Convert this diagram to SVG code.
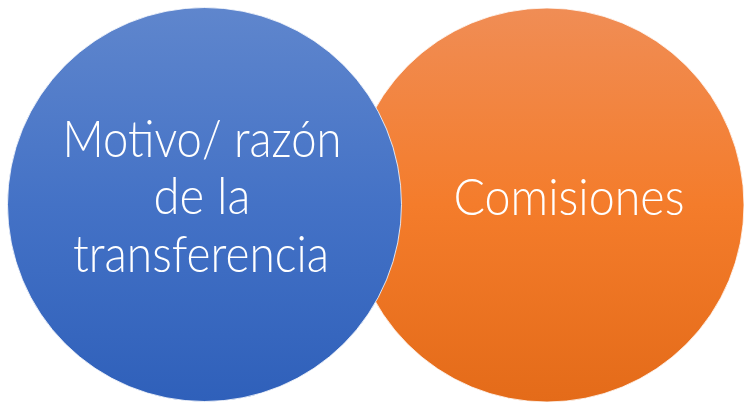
<svg xmlns="http://www.w3.org/2000/svg" width="750" height="405" viewBox="0 0 750 405">
  <defs>
    <linearGradient id="gBlue" x1="0" y1="0" x2="0" y2="1">
      <stop offset="0" stop-color="#5F86CD"/>
      <stop offset="0.5" stop-color="#4472C6"/>
      <stop offset="1" stop-color="#2F60BA"/>
    </linearGradient>
    <linearGradient id="gOrange" x1="0" y1="0" x2="0" y2="1">
      <stop offset="0" stop-color="#F08D55"/>
      <stop offset="0.5" stop-color="#F47C2B"/>
      <stop offset="1" stop-color="#E46B19"/>
    </linearGradient>
    <style>
      .lbl { font-family: "Lato", "Liberation Sans", sans-serif; font-weight: 300; font-size: 52px; fill: #FFFFFF; text-anchor: middle; }
      .circ { stroke: #FFFFFF; stroke-width: 1; stroke-opacity: 0.8; }
    </style>
  </defs>
  <rect width="750" height="405" fill="#FFFFFF"/>
  <g id="node-comisiones">
    <circle class="circ" cx="547" cy="205" r="197" fill="url(#gOrange)"/>
    <text class="lbl" x="569" y="215" textLength="231" lengthAdjust="spacingAndGlyphs">Comisiones</text>
  </g>
  <g id="node-motivo">
    <circle class="circ" cx="204.5" cy="204.5" r="197" fill="url(#gBlue)"/>
    <text class="lbl" x="202" y="157" textLength="279" lengthAdjust="spacingAndGlyphs">Motivo/ razón</text>
    <text class="lbl" x="202" y="214" textLength="97" lengthAdjust="spacingAndGlyphs">de la</text>
    <text class="lbl" x="201" y="272" textLength="256" lengthAdjust="spacingAndGlyphs">transferencia</text>
  </g>
  <g id="connectors"/>
</svg>
